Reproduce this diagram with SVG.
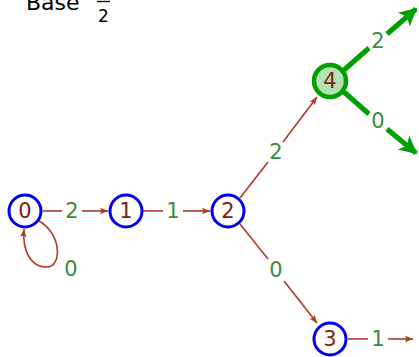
<svg xmlns="http://www.w3.org/2000/svg" width="419" height="357" viewBox="0 0 419 357">
<style>
.node{fill:#fff;stroke:#0000ee;stroke-width:3}
.nt{font-family:"DejaVu Sans","Liberation Sans",sans-serif;font-size:21px;fill:#7a2410;text-anchor:middle;dominant-baseline:central}
.lb{font-family:"DejaVu Sans","Liberation Sans",sans-serif;font-size:21px;fill:#3c8c3c;text-anchor:middle;dominant-baseline:central}
.e{stroke:#b03a22;stroke-width:1.6;fill:none}
.ea{stroke:#b03a22;stroke-width:1.6;fill:none;marker-end:url(#ar)}
.g{stroke:#00a000;stroke-width:5;fill:none}
.ga{stroke:#00a000;stroke-width:5;fill:none;marker-end:url(#ag)}
</style>
<defs>
<marker id="ar" viewBox="0 0 10 10" refX="10" refY="5" markerWidth="5" markerHeight="5" orient="auto" markerUnits="strokeWidth">
<path d="M0,1 L10,5 L0,9 L2,5 Z" fill="#b03a22"/>
</marker>
<marker id="ag" viewBox="0 0 10 10" refX="9" refY="5" markerWidth="4" markerHeight="3.6" orient="auto" markerUnits="strokeWidth">
<path d="M0,0 L10,5 L0,10 L2.5,5 Z" fill="#00a000"/>
</marker>
</defs>
<g id="title">
<text x="26" y="10" font-family="DejaVu Sans, Liberation Sans, sans-serif" font-size="22" fill="#000">Base</text>
<line x1="97" y1="1.5" x2="110" y2="1.5" stroke="#000" stroke-width="1.3"/>
<text x="103.5" y="21.5" font-family="DejaVu Sans, Liberation Sans, sans-serif" font-size="17" fill="#000" text-anchor="middle">2</text>
</g>
<g id="connectors">
<line class="e" x1="43" y1="211" x2="62" y2="211"/>
<line class="ea" x1="82" y1="211" x2="108" y2="211"/>
<text class="lb" x="72" y="211">2</text>
<line class="e" x1="143" y1="211" x2="163" y2="211"/>
<line class="ea" x1="183" y1="211" x2="210" y2="211"/>
<text class="lb" x="173" y="211">1</text>
<path class="ea" d="M39,221 C62,234 62,267 47,267 C32,268 22,252 24,229"/>
<text class="lb" x="71" y="269">0</text>
<line class="e" x1="240" y1="198" x2="268" y2="162"/>
<line class="ea" x1="283" y1="142" x2="317" y2="97"/>
<text class="lb" x="276" y="152">2</text>
<line class="e" x1="240" y1="224" x2="268" y2="259"/>
<line class="ea" x1="284" y1="281" x2="317" y2="323"/>
<text class="lb" x="276" y="270">0</text>
<line class="e" x1="348" y1="339" x2="368" y2="339"/>
<line class="ea" x1="388" y1="339" x2="413" y2="339"/>
<text class="lb" x="378" y="339">1</text>
<line class="g" x1="344" y1="70" x2="369" y2="48"/>
<line class="ga" x1="387" y1="34" x2="416" y2="9"/>
<text class="lb" x="378" y="41">2</text>
<line class="g" x1="344" y1="92" x2="369" y2="114"/>
<line class="ga" x1="387" y1="129" x2="416" y2="153"/>
<text class="lb" x="378" y="121">0</text>
</g>
<g id="n0"><circle class="node" cx="25" cy="211" r="16"/><text class="nt" x="25" y="211">0</text></g>
<g id="n1"><circle class="node" cx="126" cy="211" r="16"/><text class="nt" x="126" y="211">1</text></g>
<g id="n2"><circle class="node" cx="228" cy="211" r="16"/><text class="nt" x="228" y="211">2</text></g>
<g id="n3"><circle class="node" cx="330" cy="339" r="16"/><text class="nt" x="330" y="339">3</text></g>
<g id="n4"><circle cx="330" cy="81" r="16" fill="#b4e2b4" stroke="#00a000" stroke-width="4.5"/><text class="nt" x="330" y="81">4</text></g>
</svg>
